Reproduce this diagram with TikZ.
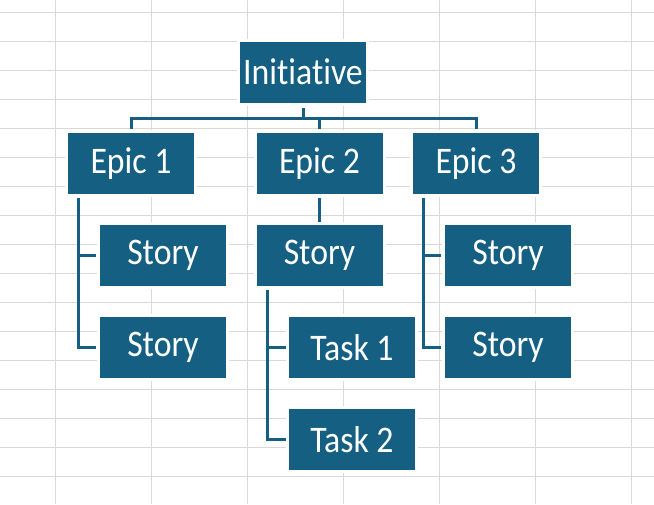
\documentclass[tikz,border=0pt]{standalone}
\usepackage{fontspec}
\setmainfont[FakeStretch=0.9,Ligatures=CommonOff]{Carlito}
\definecolor{accent}{HTML}{156082}
\definecolor{gridc}{HTML}{D9D9D9}
\tikzset{
  box/.style={fill=accent, text=white, minimum width=126pt, minimum height=61pt,
    inner sep=0pt, font=\fontsize{37.5}{40}\selectfont,
    preaction={draw=white, line width=6pt}},
  conn/.style={draw=accent, line width=3pt, line join=miter}
}
\begin{document}
\begin{tikzpicture}[x=1pt,y=-1pt]
\useasboundingbox (0,0) rectangle (654,504);
\fill[white] (0,0) rectangle (654,504);
% spreadsheet grid
\foreach \k in {0,...,6} \draw[gridc, line width=1pt] ({55.5+96*\k},0) -- ({55.5+96*\k},504);
\foreach \k in {0,...,16} \draw[gridc, line width=1pt] (0,{12.5+29*\k}) -- (654,{12.5+29*\k});
% boxes
\node[box] (init) at (303,72) {Initiative};
\node[box] (e1) at (131,163.5) {Epic 1};
\node[box] (e2) at (319.5,163.5) {Epic 2};
\node[box] (e3) at (476,163.5) {Epic 3};
\node[box] (s11) at (163,255.5) {Story};
\node[box] (s12) at (163,347.5) {Story};
\node[box] (s2) at (319.5,255.5) {Story};
\node[box] (t1) at (352,347.5) {Task 1};
\node[box] (t2) at (352,439.5) {Task 2};
\node[box] (s31) at (508,255.5) {Story};
\node[box] (s32) at (508,347.5) {Story};
% connectors
\coordinate (bus) at (0,118);
\draw[conn] ([yshift=-5pt]init.south) -- (init |- bus);
\draw[conn] ([yshift=4pt]e1.north) -- (e1 |- bus) -- (e3 |- bus) -- ([yshift=4pt]e3.north);
\draw[conn] ([yshift=4pt]e2.north) -- (e2 |- bus);
\draw[conn] ([xshift=11pt,yshift=-4pt]e1.south west) |- ([xshift=-3.5pt]s12.west);
\draw[conn] ([xshift=11pt]e1.west |- s11.west) -- ([xshift=-3.5pt]s11.west);
\draw[conn] ([xshift=11pt,yshift=-4pt]e3.south west) |- ([xshift=-3.5pt]s32.west);
\draw[conn] ([xshift=11pt]e3.west |- s31.west) -- ([xshift=-3.5pt]s31.west);
\draw[conn] ([yshift=-4pt]e2.south) -- ([yshift=3pt]s2.north);
\draw[conn] ([xshift=11pt,yshift=-3.5pt]s2.south west) |- ([xshift=-3pt]t2.west);
\draw[conn] ([xshift=11pt]s2.west |- t1.west) -- ([xshift=-3pt]t1.west);
\end{tikzpicture}
\end{document}
